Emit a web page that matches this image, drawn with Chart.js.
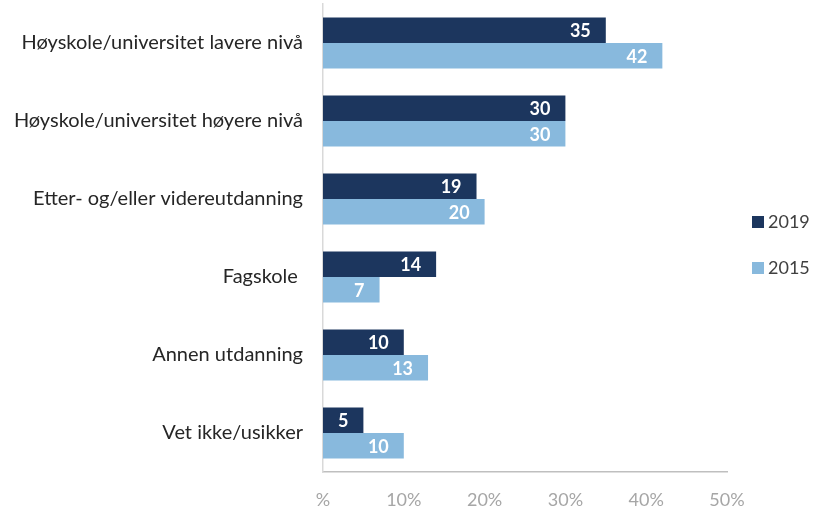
<!DOCTYPE html>
<html><head><meta charset="utf-8">
<script src="https://cdn.jsdelivr.net/npm/chart.js@4"></script>
<style>html,body{margin:0;padding:0;background:#fff}#wrap{width:825px;height:510px}</style>
</head><body><div id="wrap"><canvas id="c" width="825" height="510"></canvas></div>
<script>
const categories = ["Høyskole/universitet lavere nivå","Høyskole/universitet høyere nivå","Etter- og/eller videreutdanning","Fagskole ","Annen utdanning","Vet ikke/usikker"];
const seriesNames = ["2019","2015"];
const values2019 = [35,30,19,14,10,5];
const values2015 = [42,30,20,7,13,10];
const xTickLabels = {0:"%",10:"10%",20:"20%",30:"30%",40:"40%",50:"50%"};
const colors = ["#1c365e","#88b9dd"];
const FONT = "Lato, 'Open Sans', sans-serif";

const labelPlugin = {
  id:'labels',
  afterDatasetsDraw(chart){
    const ctx = chart.ctx;
    ctx.save();
    ctx.font = "bold 18px " + FONT;
    ctx.fillStyle = "#fff";
    ctx.textAlign = "right";
    ctx.textBaseline = "middle";
    chart.data.datasets.forEach((ds,i)=>{
      chart.getDatasetMeta(i).data.forEach((bar,j)=>{
        ctx.fillText(String(ds.data[j]), bar.x - 15, bar.y + 1);
      });
    });
    ctx.restore();
  }
};
const legendPlugin = {
  id:'customLegend',
  afterDraw(chart){
    const ctx = chart.ctx;
    ctx.save();
    ctx.font = "18px " + FONT;
    ctx.textBaseline = "middle";
    ctx.textAlign = "left";
    chart.data.datasets.forEach((ds,i)=>{
      const y = 222 + i*46;
      ctx.fillStyle = ds.backgroundColor;
      ctx.fillRect(752, y-6, 12, 12);
      ctx.fillStyle = "#404040";
      ctx.fillText(ds.label, 768, y);
    });
    ctx.restore();
  }
};

new Chart(document.getElementById('c'), {
  type:'bar',
  data:{
    labels: categories,
    datasets:[
      {label: seriesNames[0], data: values2019, backgroundColor: colors[0], categoryPercentage:0.655, barPercentage:1},
      {label: seriesNames[1], data: values2015, backgroundColor: colors[1], categoryPercentage:0.655, barPercentage:1}
    ]
  },
  options:{
    indexAxis:'y',
    responsive:false,
    animation:false,
    layout:{padding:{top:4,right:98,left:0,bottom:0}},
    plugins:{legend:{display:false},tooltip:{enabled:false}},
    scales:{
      x:{
        min:0,max:50,
        grid:{display:false},
        border:{display:true,color:"#bfbfbf",width:1.5},
        ticks:{stepSize:10,padding:9,color:"#a6a6a6",font:{size:18,family:FONT},
          callback:(v)=>xTickLabels[v]},
        afterFit(s){s.height=38;}
      },
      y:{
        grid:{display:false},
        border:{display:true,color:"#d9d9d9",width:1.5},
        ticks:{padding:12,color:"#262626",font:{size:20,family:FONT}},
        afterFit(s){s.width=323;s.paddingTop=0;s.paddingBottom=0;}
      }
    }
  },
  plugins:[labelPlugin, legendPlugin]
});
</script></body></html>
